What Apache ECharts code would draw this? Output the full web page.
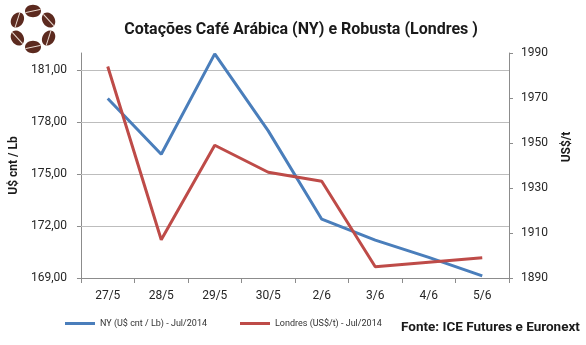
<!DOCTYPE html>
<html>
<head>
<meta charset="utf-8">
<script src="https://cdn.jsdelivr.net/npm/echarts@6/dist/echarts.min.js"></script>
<style>
  html, body { margin: 0; padding: 0; background: #fff; }
  #chart { width: 586px; height: 345px; }
</style>
</head>
<body>
<div id="chart"></div>
<script>
// Trading days
const days = ['27/5', '28/5', '29/5', '30/5', '2/6', '3/6', '4/6', '5/6'];
// Arabica, New York (US cents per lb), Jul/2014 contract
const nyArabica = [179.37, 176.15, 181.95, 177.50, 172.40, 171.19, 170.19, 169.12];
// Robusta, London (US$ per tonne), Jul/2014 contract
const londonRobusta = [1984, 1907, 1949, 1937, 1933, 1895, 1897, 1899];
// Axis tick values
const leftTicks = [169, 172, 175, 178, 181];
const rightTicks = [1890, 1910, 1930, 1950, 1970, 1990];
// Horizontal gridlines follow the left-axis ticks above the baseline
const gridValues = [172, 175, 178, 181];

const chart = echarts.init(document.getElementById('chart'));

// Coffee-bean ring logo: six beans arranged around a circle
const beans = [];
const cx = 33, cy = 29, r = 18;
for (let i = 0; i < 6; i++) {
  const a = Math.PI / 2 + i * Math.PI / 3;
  const x = cx + r * Math.cos(a);
  const y = cy - r * Math.sin(a);
  beans.push({
    type: 'group',
    x: x, y: y,
    rotation: a - Math.PI / 2,
    children: [
      { type: 'ellipse', shape: { cx: 0, cy: 0, rx: 8, ry: 6.2 }, style: { fill: '#5c2a1f' } },
      { type: 'line', shape: { x1: -7.5, y1: 1.6, x2: 7.5, y2: -1.6 }, style: { stroke: '#ecdcd2', lineWidth: 1 } }
    ]
  });
}

const fontUI = 'Roboto, "Open Sans", sans-serif';

chart.setOption({
  animation: false,
  backgroundColor: '#ffffff',
  title: {
    text: 'Cotações Café Arábica (NY) e Robusta (Londres )',
    left: 296, top: 17, textAlign: 'center',
    textStyle: { fontFamily: fontUI, fontWeight: 'bold', fontSize: 16, color: '#1a1a1a' }
  },
  grid: { left: 76, right: 77, top: 53, bottom: 67, containLabel: false },
  legend: {
    left: 60, top: 314,
    itemWidth: 30, itemHeight: 3, itemGap: 33,
    icon: 'rect',
    textStyle: { fontFamily: fontUI, fontSize: 9, color: '#333' },
    data: ['NY (U$ cnt / Lb) - Jul/2014', 'Londres (US$/t) - Jul/2014']
  },
  graphic: [
    ...beans,
    {
      type: 'text', x: 567, y: 147, rotation: Math.PI / 2,
      style: { text: 'US$/t', fontFamily: fontUI, fontWeight: 'bold', fontSize: 12, fill: '#1a1a1a', align: 'center', verticalAlign: 'middle' }
    },
    {
      type: 'text', x: 401, y: 328,
      style: { text: 'Fonte: ICE Futures e Euronext', fontFamily: fontUI, fontWeight: 'bold', fontSize: 13.5, fill: '#1a1a1a', align: 'left', verticalAlign: 'middle' }
    }
  ],
  xAxis: {
    type: 'category', data: days, boundaryGap: true,
    axisLine: { lineStyle: { color: '#8c8c8c', width: 1 } },
    axisTick: { show: true, alignWithLabel: false, length: 5, lineStyle: { color: '#8c8c8c' } },
    axisLabel: { margin: 12, fontFamily: fontUI, fontSize: 12, color: '#262626' }
  },
  yAxis: [
    {
      type: 'value', min: 169, max: 182, interval: 3, position: 'left',
      name: 'U$ cnt / Lb', nameLocation: 'middle', nameRotate: 90, nameGap: 57,
      nameTextStyle: { fontFamily: fontUI, fontWeight: 'bold', fontSize: 12, color: '#1a1a1a' },
      axisLine: { show: true, lineStyle: { color: '#8c8c8c' } },
      axisTick: { show: true, length: 4, customValues: leftTicks, lineStyle: { color: '#8c8c8c' } },
      axisLabel: {
        customValues: leftTicks, margin: 14,
        fontFamily: fontUI, fontSize: 12, color: '#262626',
        formatter: v => v.toFixed(2).replace('.', ',')
      },
      splitLine: { show: false }
    },
    {
      type: 'value', min: 1890, max: 1990, interval: 20, position: 'right',
      axisLine: { show: true, lineStyle: { color: '#8c8c8c' } },
      axisTick: { show: true, length: 4, customValues: rightTicks, lineStyle: { color: '#8c8c8c' } },
      axisLabel: {
        customValues: rightTicks, margin: 12,
        fontFamily: fontUI, fontSize: 12, color: '#262626',
        formatter: v => String(v)
      },
      splitLine: { show: false }
    }
  ],
  series: [
    {
      name: 'NY (U$ cnt / Lb) - Jul/2014', type: 'line', yAxisIndex: 0,
      data: nyArabica, symbol: 'none', z: 3,
      lineStyle: { color: '#4a7ebb', width: 3 }, itemStyle: { color: '#4a7ebb' },
      markLine: {
        silent: true, symbol: 'none', z: 1,
        label: { show: false },
        lineStyle: { color: '#bdbdbd', width: 1, type: 'solid' },
        emphasis: { disabled: true },
        data: gridValues.map(v => ({ yAxis: v }))
      }
    },
    {
      name: 'Londres (US$/t) - Jul/2014', type: 'line', yAxisIndex: 1,
      data: londonRobusta, symbol: 'none', z: 3,
      lineStyle: { color: '#be4b48', width: 3 }, itemStyle: { color: '#be4b48' }
    }
  ]
});
</script>
</body>
</html>
